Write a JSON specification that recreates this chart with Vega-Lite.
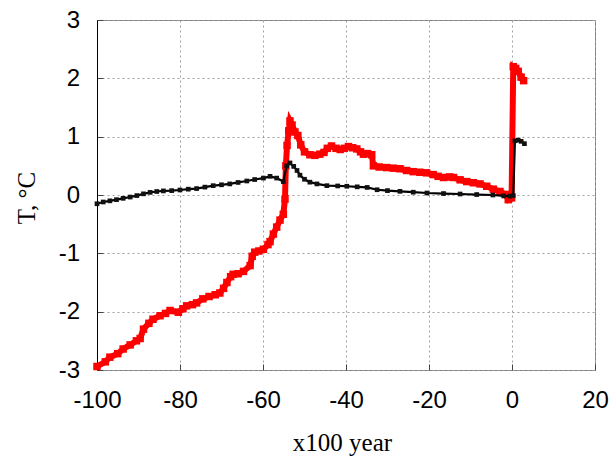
{
  "$schema": "https://vega.github.io/schema/vega-lite/v6.json",
  "width": 498,
  "height": 350,
  "autosize": {"type": "none"},
  "padding": {"left": 97, "top": 20, "right": 15, "bottom": 87},
  "background": "white",
  "config": {
    "view": {"stroke": "#808080", "strokeWidth": 1},
    "axis": {
      "grid": true,
      "gridColor": "#a0a0a0",
      "gridDash": [2, 3],
      "gridWidth": 1,
      "ticks": true,
      "tickSize": -6,
      "tickColor": "#444444",
      "tickWidth": 1,
      "labelFont": "Liberation Sans",
      "labelFontSize": 24,
      "labelColor": "#000000",
      "labelExpr": "'' + datum.value",
      "titleFont": "Liberation Serif",
      "titleFontSize": 25,
      "titleFontWeight": "normal",
      "titleColor": "#000000"
    }
  },
  "data": {
    "values": [
      {"s": "red", "x": -100, "t": -2.94},
      {"s": "red", "x": -98, "t": -2.86},
      {"s": "red", "x": -96.9, "t": -2.78},
      {"s": "red", "x": -95, "t": -2.72},
      {"s": "red", "x": -93.7, "t": -2.64},
      {"s": "red", "x": -92, "t": -2.57},
      {"s": "red", "x": -90.5, "t": -2.5},
      {"s": "red", "x": -89.6, "t": -2.46},
      {"s": "red", "x": -88.8, "t": -2.3},
      {"s": "red", "x": -87.5, "t": -2.2},
      {"s": "red", "x": -86.5, "t": -2.13},
      {"s": "red", "x": -84.8, "t": -2.07},
      {"s": "red", "x": -83.5, "t": -2.03},
      {"s": "red", "x": -82.4, "t": -1.98},
      {"s": "red", "x": -80.4, "t": -2.01},
      {"s": "red", "x": -79.3, "t": -1.95},
      {"s": "red", "x": -78.4, "t": -1.9},
      {"s": "red", "x": -77, "t": -1.88},
      {"s": "red", "x": -76, "t": -1.85},
      {"s": "red", "x": -74.5, "t": -1.78},
      {"s": "red", "x": -73, "t": -1.74},
      {"s": "red", "x": -71.5, "t": -1.71},
      {"s": "red", "x": -70.4, "t": -1.68},
      {"s": "red", "x": -69.5, "t": -1.6},
      {"s": "red", "x": -68.7, "t": -1.5},
      {"s": "red", "x": -67.8, "t": -1.4},
      {"s": "red", "x": -67.2, "t": -1.36},
      {"s": "red", "x": -66, "t": -1.35},
      {"s": "red", "x": -64.7, "t": -1.31},
      {"s": "red", "x": -63.1, "t": -1.21},
      {"s": "red", "x": -62.6, "t": -1.05},
      {"s": "red", "x": -62, "t": -0.98},
      {"s": "red", "x": -61, "t": -0.96},
      {"s": "red", "x": -59.9, "t": -0.93},
      {"s": "red", "x": -58.8, "t": -0.85},
      {"s": "red", "x": -58.3, "t": -0.8},
      {"s": "red", "x": -57.5, "t": -0.67},
      {"s": "red", "x": -56.7, "t": -0.55},
      {"s": "red", "x": -55.9, "t": -0.43},
      {"s": "red", "x": -55.1, "t": -0.33},
      {"s": "red", "x": -54.7, "t": -0.07},
      {"s": "red", "x": -54.5, "t": 0.5},
      {"s": "red", "x": -54.2, "t": 0.85},
      {"s": "red", "x": -53.8, "t": 1.1},
      {"s": "red", "x": -53.5, "t": 1.27},
      {"s": "red", "x": -53, "t": 1.2},
      {"s": "red", "x": -52.3, "t": 1.08},
      {"s": "red", "x": -51.6, "t": 1.02},
      {"s": "red", "x": -50.9, "t": 0.86},
      {"s": "red", "x": -50, "t": 0.74},
      {"s": "red", "x": -48.7, "t": 0.69},
      {"s": "red", "x": -47.5, "t": 0.68},
      {"s": "red", "x": -46.3, "t": 0.7},
      {"s": "red", "x": -45.3, "t": 0.73},
      {"s": "red", "x": -44.5, "t": 0.8},
      {"s": "red", "x": -43.5, "t": 0.84},
      {"s": "red", "x": -42.4, "t": 0.8},
      {"s": "red", "x": -41.4, "t": 0.78},
      {"s": "red", "x": -40.4, "t": 0.8},
      {"s": "red", "x": -39.4, "t": 0.83},
      {"s": "red", "x": -38.4, "t": 0.81},
      {"s": "red", "x": -37.4, "t": 0.79},
      {"s": "red", "x": -36.5, "t": 0.74},
      {"s": "red", "x": -35.8, "t": 0.7},
      {"s": "red", "x": -34.8, "t": 0.71},
      {"s": "red", "x": -33.8, "t": 0.69},
      {"s": "red", "x": -33.4, "t": 0.5},
      {"s": "red", "x": -32, "t": 0.48},
      {"s": "red", "x": -30.2, "t": 0.47},
      {"s": "red", "x": -28.6, "t": 0.46},
      {"s": "red", "x": -27, "t": 0.45},
      {"s": "red", "x": -25.4, "t": 0.42},
      {"s": "red", "x": -23.8, "t": 0.4},
      {"s": "red", "x": -22.2, "t": 0.39},
      {"s": "red", "x": -20.6, "t": 0.38},
      {"s": "red", "x": -19, "t": 0.35},
      {"s": "red", "x": -17.8, "t": 0.32},
      {"s": "red", "x": -16.5, "t": 0.3},
      {"s": "red", "x": -15, "t": 0.31},
      {"s": "red", "x": -14.1, "t": 0.3},
      {"s": "red", "x": -12.5, "t": 0.26},
      {"s": "red", "x": -10.9, "t": 0.23},
      {"s": "red", "x": -9.3, "t": 0.21},
      {"s": "red", "x": -7.7, "t": 0.19},
      {"s": "red", "x": -6.1, "t": 0.15},
      {"s": "red", "x": -4.5, "t": 0.1},
      {"s": "red", "x": -2.9, "t": 0.06},
      {"s": "red", "x": -1.5, "t": 0.01},
      {"s": "red", "x": -0.9, "t": -0.08},
      {"s": "red", "x": -0.1, "t": -0.05},
      {"s": "red", "x": 0.3, "t": 2.2},
      {"s": "red", "x": 0.9, "t": 2.17},
      {"s": "red", "x": 1.5, "t": 2.12},
      {"s": "red", "x": 2.2, "t": 2.02},
      {"s": "red", "x": 2.8, "t": 1.96},
      {"s": "black", "x": -100, "t": -0.15},
      {"s": "black", "x": -98.5, "t": -0.12},
      {"s": "black", "x": -96.9, "t": -0.1},
      {"s": "black", "x": -95.3, "t": -0.08},
      {"s": "black", "x": -93.7, "t": -0.057},
      {"s": "black", "x": -92, "t": -0.035},
      {"s": "black", "x": -90.4, "t": -0.01},
      {"s": "black", "x": -88.8, "t": 0.02},
      {"s": "black", "x": -87.2, "t": 0.045},
      {"s": "black", "x": -85.6, "t": 0.06},
      {"s": "black", "x": -84, "t": 0.07},
      {"s": "black", "x": -82, "t": 0.075},
      {"s": "black", "x": -80, "t": 0.086},
      {"s": "black", "x": -78, "t": 0.1},
      {"s": "black", "x": -76, "t": 0.11},
      {"s": "black", "x": -74, "t": 0.135},
      {"s": "black", "x": -72, "t": 0.16},
      {"s": "black", "x": -70, "t": 0.175},
      {"s": "black", "x": -68, "t": 0.19},
      {"s": "black", "x": -66, "t": 0.215},
      {"s": "black", "x": -63.9, "t": 0.24},
      {"s": "black", "x": -62, "t": 0.265},
      {"s": "black", "x": -59.9, "t": 0.29},
      {"s": "black", "x": -58.3, "t": 0.32},
      {"s": "black", "x": -56.7, "t": 0.29},
      {"s": "black", "x": -55.1, "t": 0.23},
      {"s": "black", "x": -54.3, "t": 0.5},
      {"s": "black", "x": -53.5, "t": 0.55},
      {"s": "black", "x": -52.6, "t": 0.49},
      {"s": "black", "x": -51.8, "t": 0.42},
      {"s": "black", "x": -51.1, "t": 0.34},
      {"s": "black", "x": -50, "t": 0.27},
      {"s": "black", "x": -48.7, "t": 0.22},
      {"s": "black", "x": -47, "t": 0.19},
      {"s": "black", "x": -44.6, "t": 0.16},
      {"s": "black", "x": -42, "t": 0.155},
      {"s": "black", "x": -39.8, "t": 0.15},
      {"s": "black", "x": -37.3, "t": 0.14},
      {"s": "black", "x": -34.9, "t": 0.13},
      {"s": "black", "x": -32.5, "t": 0.09},
      {"s": "black", "x": -30, "t": 0.075},
      {"s": "black", "x": -27, "t": 0.063},
      {"s": "black", "x": -23.8, "t": 0.048},
      {"s": "black", "x": -20.5, "t": 0.034},
      {"s": "black", "x": -16.5, "t": 0.025},
      {"s": "black", "x": -12.5, "t": 0.017},
      {"s": "black", "x": -8.5, "t": 0.008},
      {"s": "black", "x": -4.6, "t": 0.0},
      {"s": "black", "x": -2, "t": -0.015},
      {"s": "black", "x": -0.5, "t": -0.02},
      {"s": "black", "x": 0.3, "t": -0.01},
      {"s": "black", "x": 0.7, "t": 0.93},
      {"s": "black", "x": 1.5, "t": 0.94},
      {"s": "black", "x": 2.2, "t": 0.92},
      {"s": "black", "x": 3.0, "t": 0.88}
    ]
  },
  "encoding": {
    "x": {
      "field": "x",
      "type": "quantitative",
      "scale": {"domain": [-100, 20], "nice": false, "zero": false},
      "axis": {
        "values": [-100, -80, -60, -40, -20, 0, 20],
        "domain": false,
        "labelPadding": 43.5,
        "labelBaseline": "alphabetic",
        "labelFlush": false,
        "title": "x100 year",
        "titleX": 245,
        "titleY": 80.5,
        "titleAlign": "center",
        "titleBaseline": "alphabetic"
      }
    },
    "y": {
      "field": "t",
      "type": "quantitative",
      "scale": {"domain": [-3, 3], "nice": false, "zero": false},
      "axis": {
        "values": [-3, -2, -1, 0, 1, 2, 3],
        "domain": true,
        "domainColor": "#000000",
        "domainWidth": 1,
        "labelPadding": 23.5,
        "labelBaseline": "middle",
        "labelFlush": false,
        "title": "T, °C",
        "titleAngle": 270,
        "titleX": -63,
        "titleY": 177.5,
        "titleAlign": "center",
        "titleBaseline": "alphabetic"
      }
    }
  },
  "layer": [
    {
      "transform": [{"filter": "datum.s === 'red'"}],
      "mark": {"type": "line", "color": "#ff0000", "strokeWidth": 6, "clip": false}
    },
    {
      "transform": [{"filter": "datum.s === 'red'"}],
      "mark": {"type": "point", "shape": "square", "filled": true, "color": "#ff0000", "size": 56, "opacity": 1, "clip": false}
    },
    {
      "transform": [{"filter": "datum.s === 'black'"}],
      "mark": {"type": "line", "color": "#000000", "strokeWidth": 2.2, "clip": false}
    },
    {
      "transform": [{"filter": "datum.s === 'black'"}],
      "mark": {"type": "point", "shape": "square", "filled": true, "color": "#111111", "size": 22, "opacity": 1, "clip": false}
    }
  ]
}
